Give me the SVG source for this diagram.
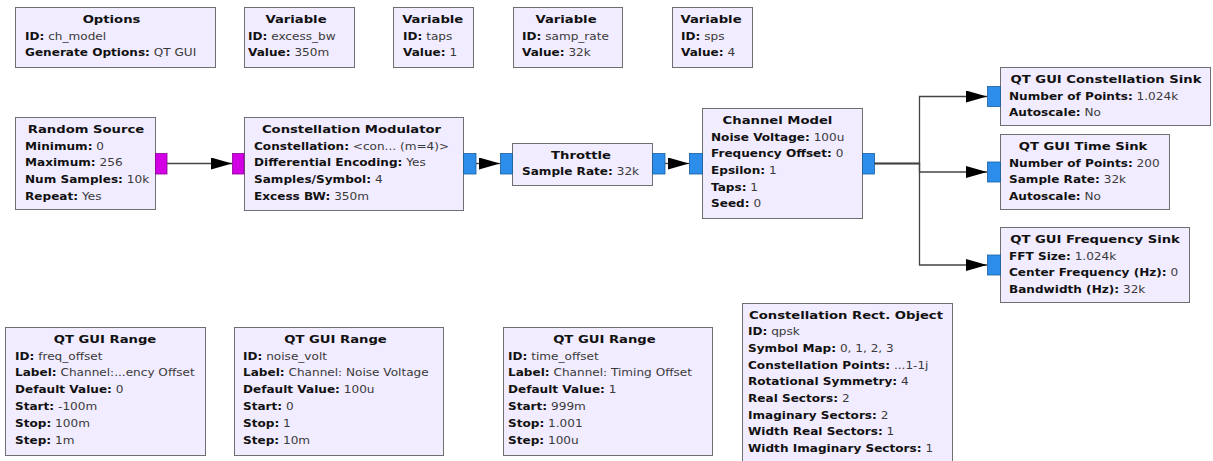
<svg xmlns="http://www.w3.org/2000/svg" width="1213" height="461" viewBox="0 0 1213 461">
  <style>
    .blk { fill: #F1ECFF; stroke: #6f6f6f; stroke-width: 1; }
    .t { font-family: "DejaVu Sans", "Liberation Sans", sans-serif; font-size: 11px; font-weight: bold; fill: #111; text-anchor: middle; }
    .p { font-family: "DejaVu Sans", "Liberation Sans", sans-serif; font-size: 10px; fill: #3a3a3a; }
    .k { font-weight: bold; fill: #111; }
    .byte { fill: #D300E6; stroke: #8a0096; stroke-width: 0.8; }
    .cplx { fill: #2C8EEA; stroke: #1b5f9f; stroke-width: 0.8; }
    .wire { fill: none; stroke: #444; stroke-width: 1.3; }
  </style>
  <defs>
    <marker id="arrow" markerUnits="userSpaceOnUse" markerWidth="22" markerHeight="13" refX="21" refY="6" orient="auto">
      <path d="M0,0 L21,6 L0,12 Z" fill="#000"/>
    </marker>
  </defs>
  <rect width="1213" height="461" fill="#fff"/>

  <!-- variables / options row -->
  <g id="options">
    <rect class="blk" x="15.5" y="7.5" width="200" height="60"/>
    <text class="t" transform="translate(111.5 23) scale(1.2 1)">Options</text>
    <text class="p" transform="translate(25 39.5) scale(1.21 1)"><tspan class="k">ID:</tspan> ch_model</text>
    <text class="p" transform="translate(25 56.2) scale(1.21 1)"><tspan class="k">Generate Options:</tspan> QT GUI</text>
  </g>
  <g id="var_excess_bw">
    <rect class="blk" x="244.5" y="7.5" width="110" height="60"/>
    <text class="t" transform="translate(296 23) scale(1.2 1)">Variable</text>
    <text class="p" transform="translate(248 39.5) scale(1.21 1)"><tspan class="k">ID:</tspan> excess_bw</text>
    <text class="p" transform="translate(248 56.2) scale(1.21 1)"><tspan class="k">Value:</tspan> 350m</text>
  </g>
  <g id="var_taps">
    <rect class="blk" x="393.5" y="7.5" width="80" height="60"/>
    <text class="t" transform="translate(432.7 23) scale(1.2 1)">Variable</text>
    <text class="p" transform="translate(403 39.5) scale(1.21 1)"><tspan class="k">ID:</tspan> taps</text>
    <text class="p" transform="translate(403 56.2) scale(1.21 1)"><tspan class="k">Value:</tspan> 1</text>
  </g>
  <g id="var_samp_rate">
    <rect class="blk" x="513.5" y="7.5" width="109" height="60"/>
    <text class="t" transform="translate(566 23) scale(1.2 1)">Variable</text>
    <text class="p" transform="translate(522 39.5) scale(1.21 1)"><tspan class="k">ID:</tspan> samp_rate</text>
    <text class="p" transform="translate(522 56.2) scale(1.21 1)"><tspan class="k">Value:</tspan> 32k</text>
  </g>
  <g id="var_sps">
    <rect class="blk" x="672.5" y="7.5" width="80" height="60"/>
    <text class="t" transform="translate(711 23) scale(1.2 1)">Variable</text>
    <text class="p" transform="translate(681 39.5) scale(1.21 1)"><tspan class="k">ID:</tspan> sps</text>
    <text class="p" transform="translate(681 56.2) scale(1.21 1)"><tspan class="k">Value:</tspan> 4</text>
  </g>

  <!-- signal chain -->
  <g id="random_source">
    <rect class="blk" x="15.5" y="117.5" width="140" height="92"/>
    <text class="t" transform="translate(86 133) scale(1.2 1)">Random Source</text>
    <text class="p" transform="translate(25 149.5) scale(1.21 1)"><tspan class="k">Minimum:</tspan> 0</text>
    <text class="p" transform="translate(25 166.2) scale(1.21 1)"><tspan class="k">Maximum:</tspan> 256</text>
    <text class="p" transform="translate(25 182.9) scale(1.21 1)"><tspan class="k">Num Samples:</tspan> 10k</text>
    <text class="p" transform="translate(25 199.6) scale(1.21 1)"><tspan class="k">Repeat:</tspan> Yes</text>
    <rect class="byte" x="155.5" y="153.5" width="11.5" height="20.5"/>
  </g>
  <g id="constellation_modulator">
    <rect class="blk" x="244.5" y="117.5" width="219" height="93"/>
    <text class="t" transform="translate(351.5 133) scale(1.2 1)">Constellation Modulator</text>
    <text class="p" transform="translate(254 149.5) scale(1.21 1)"><tspan class="k">Constellation:</tspan> &lt;con... (m=4)&gt;</text>
    <text class="p" transform="translate(254 166.2) scale(1.21 1)"><tspan class="k">Differential Encoding:</tspan> Yes</text>
    <text class="p" transform="translate(254 182.9) scale(1.21 1)"><tspan class="k">Samples/Symbol:</tspan> 4</text>
    <text class="p" transform="translate(254 199.6) scale(1.21 1)"><tspan class="k">Excess BW:</tspan> 350m</text>
    <rect class="byte" x="232.5" y="153.5" width="11.5" height="20.5"/>
    <rect class="cplx" x="463.5" y="153.5" width="12.5" height="20.5"/>
  </g>
  <g id="throttle">
    <rect class="blk" x="512.5" y="143.5" width="140" height="42"/>
    <text class="t" transform="translate(581 158.5) scale(1.2 1)">Throttle</text>
    <text class="p" transform="translate(522 174.5) scale(1.21 1)"><tspan class="k">Sample Rate:</tspan> 32k</text>
    <rect class="cplx" x="500.5" y="153.5" width="12" height="20.5"/>
    <rect class="cplx" x="652.5" y="153.5" width="12.5" height="20.5"/>
  </g>
  <g id="channel_model">
    <rect class="blk" x="702.5" y="108.5" width="160" height="110"/>
    <text class="t" transform="translate(777.5 124) scale(1.2 1)">Channel Model</text>
    <text class="p" transform="translate(711 140.5) scale(1.21 1)"><tspan class="k">Noise Voltage:</tspan> 100u</text>
    <text class="p" transform="translate(711 157.2) scale(1.21 1)"><tspan class="k">Frequency Offset:</tspan> 0</text>
    <text class="p" transform="translate(711 173.9) scale(1.21 1)"><tspan class="k">Epsilon:</tspan> 1</text>
    <text class="p" transform="translate(711 190.6) scale(1.21 1)"><tspan class="k">Taps:</tspan> 1</text>
    <text class="p" transform="translate(711 207.3) scale(1.21 1)"><tspan class="k">Seed:</tspan> 0</text>
    <rect class="cplx" x="689.5" y="153.5" width="13" height="20.5"/>
    <rect class="cplx" x="862.5" y="153.5" width="12" height="20.5"/>
  </g>

  <!-- sinks -->
  <g id="constellation_sink">
    <rect class="blk" x="1000.5" y="67.5" width="210" height="58"/>
    <text class="t" transform="translate(1106 82.5) scale(1.2 1)">QT GUI Constellation Sink</text>
    <text class="p" transform="translate(1009 99.5) scale(1.21 1)"><tspan class="k">Number of Points:</tspan> 1.024k</text>
    <text class="p" transform="translate(1009 116.2) scale(1.21 1)"><tspan class="k">Autoscale:</tspan> No</text>
    <rect class="cplx" x="987.5" y="86.5" width="13" height="20"/>
  </g>
  <g id="time_sink">
    <rect class="blk" x="1000.5" y="134.5" width="169" height="75"/>
    <text class="t" transform="translate(1083 150) scale(1.2 1)">QT GUI Time Sink</text>
    <text class="p" transform="translate(1009 166.5) scale(1.21 1)"><tspan class="k">Number of Points:</tspan> 200</text>
    <text class="p" transform="translate(1009 183.2) scale(1.21 1)"><tspan class="k">Sample Rate:</tspan> 32k</text>
    <text class="p" transform="translate(1009 199.9) scale(1.21 1)"><tspan class="k">Autoscale:</tspan> No</text>
    <rect class="cplx" x="987.5" y="162" width="13" height="20"/>
  </g>
  <g id="freq_sink">
    <rect class="blk" x="1000.5" y="227.5" width="189" height="75"/>
    <text class="t" transform="translate(1095 243) scale(1.2 1)">QT GUI Frequency Sink</text>
    <text class="p" transform="translate(1009 259.5) scale(1.21 1)"><tspan class="k">FFT Size:</tspan> 1.024k</text>
    <text class="p" transform="translate(1009 276.2) scale(1.21 1)"><tspan class="k">Center Frequency (Hz):</tspan> 0</text>
    <text class="p" transform="translate(1009 292.9) scale(1.21 1)"><tspan class="k">Bandwidth (Hz):</tspan> 32k</text>
    <rect class="cplx" x="987.5" y="255" width="13" height="20"/>
  </g>

  <!-- GUI ranges and constellation object -->
  <g id="range_freq_offset">
    <rect class="blk" x="5.5" y="327.5" width="200" height="128"/>
    <text class="t" transform="translate(105 343) scale(1.2 1)">QT GUI Range</text>
    <text class="p" transform="translate(15 359.5) scale(1.21 1)"><tspan class="k">ID:</tspan> freq_offset</text>
    <text class="p" transform="translate(15 376.4) scale(1.21 1)"><tspan class="k">Label:</tspan> Channel:...ency Offset</text>
    <text class="p" transform="translate(15 393.3) scale(1.21 1)"><tspan class="k">Default Value:</tspan> 0</text>
    <text class="p" transform="translate(15 410.2) scale(1.21 1)"><tspan class="k">Start:</tspan> -100m</text>
    <text class="p" transform="translate(15 427.1) scale(1.21 1)"><tspan class="k">Stop:</tspan> 100m</text>
    <text class="p" transform="translate(15 444) scale(1.21 1)"><tspan class="k">Step:</tspan> 1m</text>
  </g>
  <g id="range_noise_volt">
    <rect class="blk" x="234.5" y="327.5" width="209" height="128"/>
    <text class="t" transform="translate(335.5 343) scale(1.2 1)">QT GUI Range</text>
    <text class="p" transform="translate(243 359.5) scale(1.21 1)"><tspan class="k">ID:</tspan> noise_volt</text>
    <text class="p" transform="translate(243 376.4) scale(1.21 1)"><tspan class="k">Label:</tspan> Channel: Noise Voltage</text>
    <text class="p" transform="translate(243 393.3) scale(1.21 1)"><tspan class="k">Default Value:</tspan> 100u</text>
    <text class="p" transform="translate(243 410.2) scale(1.21 1)"><tspan class="k">Start:</tspan> 0</text>
    <text class="p" transform="translate(243 427.1) scale(1.21 1)"><tspan class="k">Stop:</tspan> 1</text>
    <text class="p" transform="translate(243 444) scale(1.21 1)"><tspan class="k">Step:</tspan> 10m</text>
  </g>
  <g id="range_time_offset">
    <rect class="blk" x="503.5" y="327.5" width="209" height="128"/>
    <text class="t" transform="translate(604.4 343) scale(1.2 1)">QT GUI Range</text>
    <text class="p" transform="translate(508 359.5) scale(1.21 1)"><tspan class="k">ID:</tspan> time_offset</text>
    <text class="p" transform="translate(508 376.4) scale(1.21 1)"><tspan class="k">Label:</tspan> Channel: Timing Offset</text>
    <text class="p" transform="translate(508 393.3) scale(1.21 1)"><tspan class="k">Default Value:</tspan> 1</text>
    <text class="p" transform="translate(508 410.2) scale(1.21 1)"><tspan class="k">Start:</tspan> 999m</text>
    <text class="p" transform="translate(508 427.1) scale(1.21 1)"><tspan class="k">Stop:</tspan> 1.001</text>
    <text class="p" transform="translate(508 444) scale(1.21 1)"><tspan class="k">Step:</tspan> 100u</text>
  </g>
  <g id="constellation_rect_object">
    <rect class="blk" x="742.5" y="303.5" width="210" height="165"/>
    <text class="t" transform="translate(846 318.5) scale(1.2 1)">Constellation Rect. Object</text>
    <text class="p" transform="translate(748 335.2) scale(1.21 1)"><tspan class="k">ID:</tspan> qpsk</text>
    <text class="p" transform="translate(748 351.9) scale(1.21 1)"><tspan class="k">Symbol Map:</tspan> 0, 1, 2, 3</text>
    <text class="p" transform="translate(748 368.6) scale(1.21 1)"><tspan class="k">Constellation Points:</tspan> ...1-1j</text>
    <text class="p" transform="translate(748 385.3) scale(1.21 1)"><tspan class="k">Rotational Symmetry:</tspan> 4</text>
    <text class="p" transform="translate(748 402) scale(1.21 1)"><tspan class="k">Real Sectors:</tspan> 2</text>
    <text class="p" transform="translate(748 418.7) scale(1.21 1)"><tspan class="k">Imaginary Sectors:</tspan> 2</text>
    <text class="p" transform="translate(748 435.4) scale(1.21 1)"><tspan class="k">Width Real Sectors:</tspan> 1</text>
    <text class="p" transform="translate(748 452.1) scale(1.21 1)"><tspan class="k">Width Imaginary Sectors:</tspan> 1</text>
  </g>

  <!-- connections -->
  <g id="connectors">
    <path class="wire" d="M167,163.5 H232" marker-end="url(#arrow)"/>
    <path class="wire" d="M476,163.5 H500" marker-end="url(#arrow)"/>
    <path class="wire" d="M665,163.5 H689" marker-end="url(#arrow)"/>
    <path class="wire" d="M874.5,163.5 H919.5 V96.5 H987" marker-end="url(#arrow)"/>
    <path class="wire" d="M874.5,163.5 H919.5 V172 H987" marker-end="url(#arrow)"/>
    <path class="wire" d="M874.5,163.5 H919.5 V265 H987" marker-end="url(#arrow)"/>
  </g>
</svg>
